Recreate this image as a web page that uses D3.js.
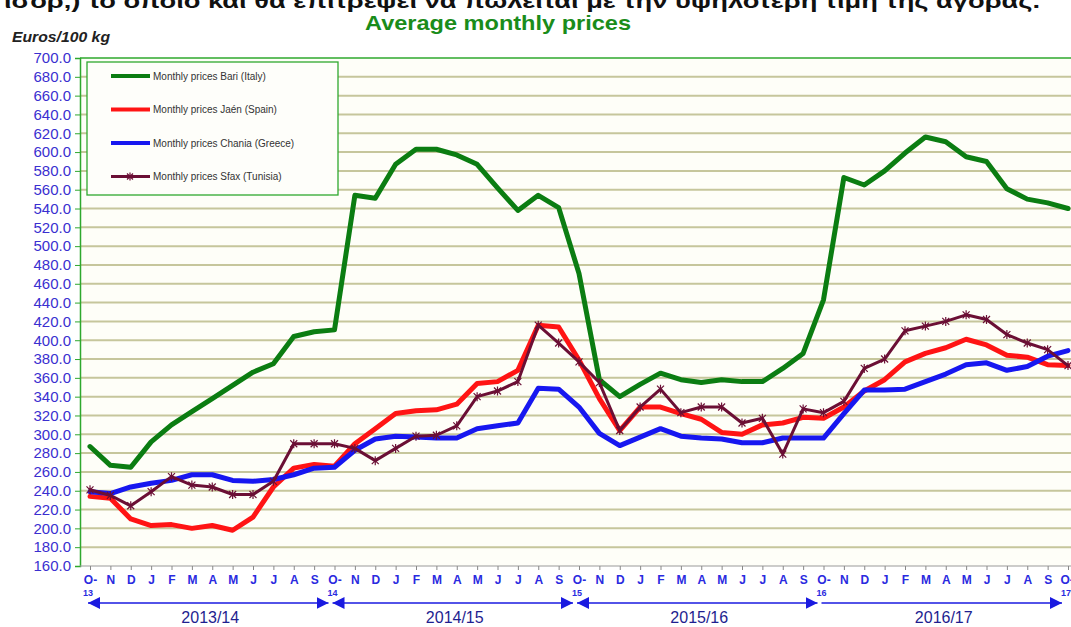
<!DOCTYPE html>
<html>
<head>
<meta charset="utf-8">
<script src="https://cdn.jsdelivr.net/npm/d3@7"></script>
<style>
  body { margin: 0; background: #fff; overflow: hidden; }
  text { font-family: "Liberation Sans", Arial, sans-serif; }
</style>
</head>
<body>
<script>
// month labels (Oct 2013 .. Oct 2017)
var months = ["O-","N","D","J","F","M","A","M","J","J","A","S",
              "O-","N","D","J","F","M","A","M","J","J","A","S",
              "O-","N","D","J","F","M","A","M","J","J","A","S",
              "O-","N","D","J","F","M","A","M","J","J","A","S","O-"];
var yearMarks = ["13","14","15","16","17"];
var seasons = ["2013/14","2014/15","2015/16","2016/17"];

// series values, euros/100 kg
var bari = [287,267,265,292,310,324,338,352,366,375,404,409,
            411,554,551,587,603,603,597,587,562,538,554,541,
            471,358,340,353,365,358,355,358,356,356,370,386,
            443,573,565,580,599,616,611,595,590,561,550,546,540];
var jaen = [234,232,210,203,204,200,203,198,212,244,264,268,
            266,290,306,322,325,326,332,354,356,368,416,414,
            379,338,304,329,329,322,316,302,300,310,312,318,
            317,329,346,358,377,386,392,401,395,384,382,374,373];
var chania = [239,237,244,248,251,257,257,251,250,252,257,264,
              265,283,295,298,297,296,296,306,309,312,349,348,
              329,301,288,297,306,298,296,295,291,291,296,296,
              296,322,347,347,348,356,364,374,376,368,372,383,389];
var sfax = [241,235,224,239,255,246,244,236,236,250,290,290,
            290,285,272,285,298,299,309,340,346,356,416,397,
            377,355,304,329,348,323,329,329,312,317,279,327,
            323,335,370,380,410,415,420,427,422,406,397,390,373];

var seriesNames = ["Monthly prices Bari (Italy)","Monthly prices Jaén (Spain)",
                   "Monthly prices Chania (Greece)","Monthly prices Sfax (Tunisia)"];
var seriesColors = ["#0b7d12","#ff1414","#1717f0","#6b0f35"];
var seriesData = [bari, jaen, chania, sfax];

var W = 1071, H = 627;
var svg = d3.select("body").append("svg").attr("width", W).attr("height", H);

var plotL = 80, plotT = 58, plotB = 566, plotR = 1080;

var x = d3.scaleLinear().domain([0, 48]).range([90, 1068]);
var y = d3.scaleLinear().domain([160, 700]).range([plotB, plotT]);

// cut-off line of text above the chart
svg.append("text")
  .attr("x", 4).attr("y", 8)
  .attr("textLength", 1036)
  .attr("lengthAdjust", "spacingAndGlyphs")
  .style("font-size", "21px").style("font-weight", "bold").attr("fill", "#111")
  .text("ισορ,) το οποίο και θα επιτρέψει να πωλείται με την υψηλότερη τιμή της αγοράς.");

// title
svg.append("text")
  .attr("x", 498).attr("y", 30).attr("text-anchor", "middle")
  .attr("textLength", 266).attr("lengthAdjust", "spacingAndGlyphs")
  .style("font-size", "21px").style("font-weight", "bold").attr("fill", "#1a8c1a")
  .text("Average monthly prices");

svg.append("text")
  .attr("x", 12).attr("y", 42)
  .attr("textLength", 98).attr("lengthAdjust", "spacingAndGlyphs")
  .style("font-size", "14px").style("font-weight", "bold").style("font-style", "italic")
  .attr("fill", "#222")
  .text("Euros/100 kg");

// plot background
svg.append("rect")
  .attr("x", plotL).attr("y", plotT).attr("width", plotR - plotL).attr("height", plotB - plotT)
  .attr("fill", "#fefef8");

// grid lines
var yTicks = d3.range(160, 701, 20);
svg.append("g").selectAll("line").data(yTicks.filter(function(d){ return d > 160 && d < 700; }))
  .enter().append("line")
  .attr("x1", plotL).attr("x2", plotR)
  .attr("y1", function(d){ return y(d); }).attr("y2", function(d){ return y(d); })
  .attr("stroke", "#c6c69c").attr("stroke-width", 2);

// top border
svg.append("line").attr("x1", plotL).attr("x2", plotR).attr("y1", plotT).attr("y2", plotT)
  .attr("stroke", "#2ea82e").attr("stroke-width", 1.5);

// y axis
var yAxis = d3.axisLeft(y).tickValues(yTicks).tickSize(5)
  .tickFormat(function(d){ return d3.format(".1f")(d); });
var gy = svg.append("g").attr("transform", "translate(" + plotL + ",0)").call(yAxis);
gy.select(".domain").attr("stroke", "#2ea82e").attr("stroke-width", 1.5);
gy.selectAll(".tick line").attr("stroke", "#2ea82e");
gy.selectAll(".tick text").attr("fill", "#3a2fd0").style("font-size", "15px")
  .style("font-family", "'Liberation Sans', Arial, sans-serif").attr("x", -9);

// x axis
var xAxis = d3.axisBottom(x).tickValues(d3.range(0, 49)).tickSize(4).tickFormat(function(d){ return months[d]; });
var gx = svg.append("g").attr("transform", "translate(0," + plotB + ")").call(xAxis);
gx.select(".domain").attr("stroke", "#9a9a9a").attr("stroke-width", 1.2)
  .attr("d", "M" + plotL + ",0H" + plotR);
gx.selectAll(".tick line").attr("stroke", "#888");
gx.selectAll(".tick text").attr("fill", "#2a2ae0").attr("y", 9)
  .style("font-size", "12px").style("font-weight", "bold")
  .style("font-family", "'Liberation Sans', Arial, sans-serif");
gx.selectAll(".tick text").filter(function(d){ return d === 48; }).attr("text-anchor", "start").attr("dx", -8);

// year numbers under October ticks
svg.append("g").selectAll("text").data(yearMarks).enter().append("text")
  .attr("x", function(d, i){ return i === 4 ? x(i * 12) - 7 : x(i * 12) - 2; }).attr("y", 596)
  .attr("text-anchor", function(d, i){ return i === 4 ? "start" : "middle"; })
  .style("font-size", "9px").style("font-weight", "bold").attr("fill", "#2a2ae0")
  .text(function(d){ return d; });

// season arrows
var defs = svg.append("defs");
defs.append("marker").attr("id", "ah").attr("viewBox", "0 0 10 10")
  .attr("refX", 10).attr("refY", 5).attr("markerWidth", 12).attr("markerHeight", 12)
  .attr("markerUnits", "userSpaceOnUse").attr("orient", "auto-start-reverse")
  .append("path").attr("d", "M0,0L10,5L0,10Z").attr("fill", "#1a1ae0");

var ag = svg.append("g");
seasons.forEach(function(s, i){
  var x0 = x(i * 12) - 4, x1 = x((i + 1) * 12) - 6;
  var ln = ag.append("line")
    .attr("x1", x0 + 2).attr("x2", x1).attr("y1", 603).attr("y2", 603)
    .attr("stroke", "#1a1ae0").attr("stroke-width", 1.5)
    .attr("marker-end", "url(#ah)");
  if (i < 3) ln.attr("marker-start", "url(#ah)");
  ag.append("text")
    .attr("x", (x0 + x1) / 2 + 3).attr("y", 623).attr("text-anchor", "middle")
    .style("font-size", "16px").attr("fill", "#1e1e90")
    .text(s);
});

// series lines
var line = d3.line().x(function(d, i){ return x(i); }).y(function(d){ return y(d); });
var widths = [5, 5, 5, 3];
seriesData.forEach(function(vals, k){
  svg.append("path").datum(vals)
    .attr("d", line)
    .attr("fill", "none")
    .attr("stroke", seriesColors[k])
    .attr("stroke-width", widths[k])
    .attr("stroke-linejoin", "round")
    .attr("stroke-linecap", "round");
});

// star markers on Sfax
function star(g, cx, cy, r, col){
  g.append("path")
    .attr("d", "M" + (cx - r) + "," + (cy - r) + "L" + (cx + r) + "," + (cy + r) +
               "M" + (cx - r) + "," + (cy + r) + "L" + (cx + r) + "," + (cy - r) +
               "M" + cx + "," + (cy - r - 1) + "L" + cx + "," + (cy + r + 1))
    .attr("stroke", col).attr("stroke-width", 1.2).attr("fill", "none");
}
var sg = svg.append("g");
sfax.forEach(function(v, i){ star(sg, x(i), y(v), 3.5, "#6b0f35"); });

// legend
var lg = svg.append("g");
lg.append("rect").attr("x", 87).attr("y", 62).attr("width", 251).attr("height", 133)
  .attr("fill", "#fefefa").attr("stroke", "#2ea82e").attr("stroke-width", 1.3);
seriesNames.forEach(function(n, k){
  var ly = 76 + k * 33.5;
  lg.append("line").attr("x1", 111).attr("x2", 150).attr("y1", ly).attr("y2", ly)
    .attr("stroke", seriesColors[k]).attr("stroke-width", k === 3 ? 3 : 4);
  if (k === 3) star(lg, 130, ly, 3, seriesColors[k]);
  lg.append("text").attr("x", 153).attr("y", ly + 3.5)
    .style("font-size", "10px").attr("fill", "#333").text(n);
});
</script>
</body>
</html>
